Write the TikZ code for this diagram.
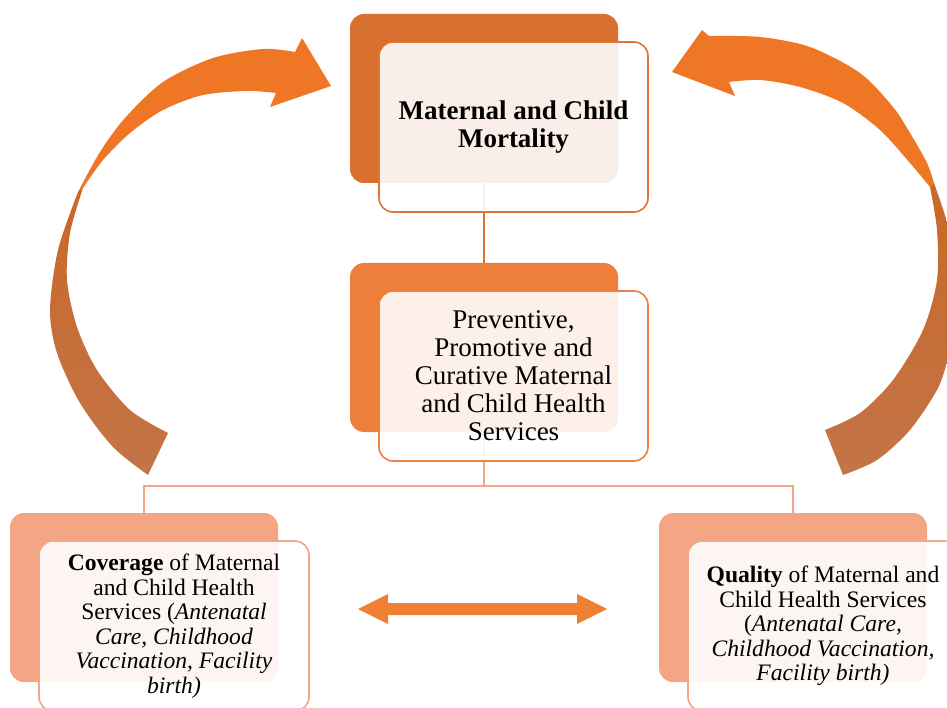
\documentclass[tikz,border=0pt]{standalone}
\usepackage{fontspec}
\setmainfont{Liberation Serif}
\usetikzlibrary{calc}

\definecolor{topfill}{HTML}{D87130}
\definecolor{midfill}{HTML}{EE7F3A}
\definecolor{lowfill}{HTML}{F3A584}
\definecolor{topline}{HTML}{E07430}
\definecolor{midline}{HTML}{EE8040}
\definecolor{lowline}{HTML}{F3A584}
\definecolor{arrowbright}{HTML}{EE7624}
\definecolor{arrowdeep}{HTML}{C96828}
\definecolor{arrowdust}{HTML}{C47448}
\definecolor{linkarrow}{HTML}{EE7F33}

\tikzset{
  backbox/.style={rectangle, rounded corners=14pt, inner sep=0pt,
    minimum width=268pt, minimum height=169pt},
  frontbox/.style={rectangle, rounded corners=14pt, inner sep=0pt,
    minimum width=269pt, minimum height=170pt, line width=1.6pt,
    fill=white, fill opacity=0.89, text opacity=1, align=center},
  bigtext/.style={font=\fontsize{27}{28}\selectfont},
  smalltext/.style={font=\fontsize{23.6}{24.5}\selectfont},
  link/.style={line width=2pt}
}

\begin{document}
\begin{tikzpicture}[x=1pt,y=-1pt]
\useasboundingbox (0,0) rectangle (947,708);
\clip (0,0) rectangle (947,708);

% back panels
\node[backbox, fill=topfill] (topback) at (484,98.5) {};
\node[backbox, fill=midfill] (midback) at (484,347.5) {};
\node[backbox, fill=lowfill] (leftback) at (144,597.5) {};
\node[backbox, fill=lowfill] (rightback) at (793,597.5) {};

% tree links
\draw[link, draw=topline] (topback.south) -- (midback.north);
\coordinate (bus) at (484,486);
\draw[link, draw=lowline] (midback.south) -- (bus);
\draw[link, draw=lowline] (bus) -| (leftback.north);
\draw[link, draw=lowline] (bus) -| (rightback.north);

% front panels with text
\node[frontbox, draw=topline, font=\fontsize{27}{28}\selectfont\bfseries] (top) at (513.5,127)
  {Maternal and Child\\Mortality};
\node[frontbox, draw=midline, bigtext] (mid) at (513.5,376)
  {Preventive,\\Promotive and\\Curative Maternal\\and Child Health\\Services};
\node[frontbox, draw=lowline, smalltext, minimum width=270pt] (cover) at (174,626)
  {\textbf{Coverage} of Maternal\\and Child Health\\Services (\textit{Antenatal}\\\textit{Care, Childhood}\\\textit{Vaccination, Facility}\\\textit{birth)}};
\node[frontbox, draw=lowline, smalltext, minimum width=270pt] (quality) at (823,626)
  {\textbf{Quality} of Maternal and\\Child Health Services\\(\textit{Antenatal Care,}\\\textit{Childhood Vaccination,}\\\textit{Facility birth)}};

% two-headed arrow between coverage and quality
\coordinate (dl) at (358,609);
\coordinate (dr) at (607,609);
\fill[linkarrow] (dl) -- ($(dl)+(30,-15)$) -- ($(dl)+(30,-6)$) -- ($(dr)+(-30,-6)$)
  -- ($(dr)+(-30,-15)$) -- (dr) -- ($(dr)+(-30,15)$) -- ($(dr)+(-30,6)$)
  -- ($(dl)+(30,6)$) -- ($(dl)+(30,15)$) -- cycle;

% left circular arrow: head and upper band
\fill[arrowbright] (331,86) -- (270,107) -- (276,93)
  -- plot[smooth] coordinates {(276,93) (247,91) (203,95) (163,110) (130,133) (103,160) (83,188)}
  -- plot[smooth] coordinates {(78,192) (100,152) (125,118) (163,82) (213,58) (263,49) (295,52)}
  -- (302,38) -- cycle;
% left circular arrow: lower band
\shade[top color=arrowdeep, bottom color=arrowdust]
  plot[smooth] coordinates {(78,192) (58,250) (50,310) (57,353) (80,403) (113,447) (148,475)}
  -- plot[smooth] coordinates {(168,433) (130,410) (97,370) (77,327) (67,280) (70,233) (83,188)}
  -- cycle;

% right circular arrow: head and upper band
\fill[arrowbright] (672,72) -- (735,96) -- (729,82)
  -- plot[smooth] coordinates {(729,82) (760,80) (800,87) (843,103) (880,130) (910,163) (930,187)}
  -- plot[smooth] coordinates {(934,183) (927,163) (910,133) (893,107) (860,73) (810,47) (760,37) (709,36)}
  -- (702,30) -- cycle;
% right circular arrow: lower band
\shade[top color=arrowdeep, bottom color=arrowdust]
  plot[smooth] coordinates {(934,183) (947,222) (955,260) (958,300) (955,340) (947,363) (937,390) (910,430) (877,460) (843,475)}
  -- plot[smooth] coordinates {(825,430) (860,413) (893,380) (923,330) (937,280) (937,230) (930,187)}
  -- cycle;
\end{tikzpicture}
\end{document}
